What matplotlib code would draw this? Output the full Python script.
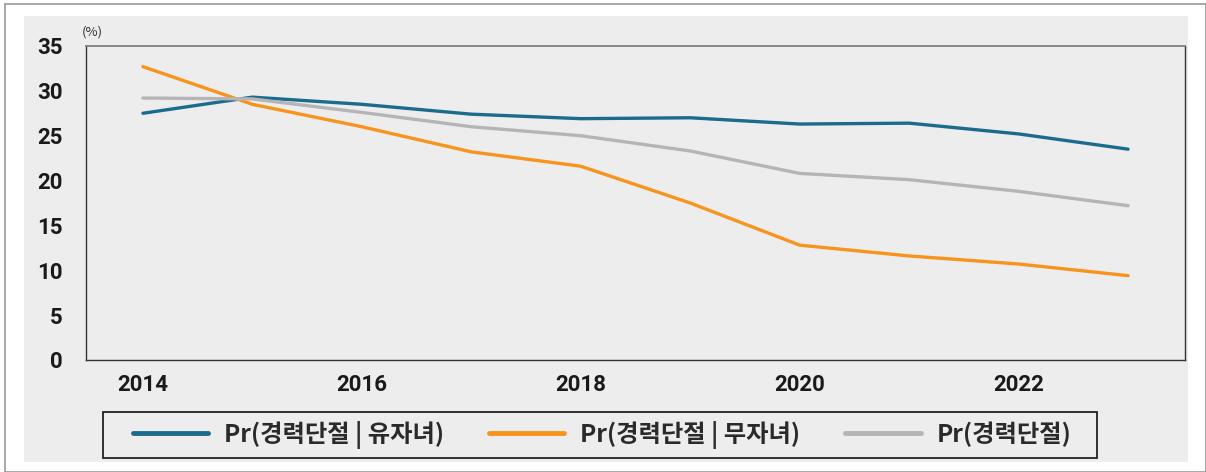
import matplotlib
matplotlib.use("Agg")
import matplotlib.pyplot as plt
from matplotlib.patches import Rectangle

years = [2014, 2015, 2016, 2017, 2018, 2019, 2020, 2021, 2022, 2023]
with_child = [27.5, 29.3, 28.5, 27.4, 26.9, 27.0, 26.3, 26.4, 25.2, 23.5]
no_child = [32.7, 28.5, 26.0, 23.2, 21.6, 17.5, 12.8, 11.6, 10.7, 9.4]
overall = [29.2, 29.1, 27.6, 26.0, 25.0, 23.3, 20.8, 20.1, 18.8, 17.2]
labels = ["Pr(경력단절 | 유자녀)", "Pr(경력단절 | 무자녀)", "Pr(경력단절)"]
colors = ["#1b6c8c", "#f7941d", "#b5b5b7"]
xticks = [2014, 2016, 2018, 2020, 2022]
yticks = [0, 5, 10, 15, 20, 25, 30, 35]

plt.rcParams['font.family'] = ['Noto Sans CJK KR', 'DejaVu Sans']

W, H = 1206, 472
fig = plt.figure(figsize=(W/100, H/100), dpi=100, facecolor="white")

# outer frame and gray panel
fig.patches.append(Rectangle((5/W, 0), (W-5)/W, (H-4)/H, transform=fig.transFigure,
                             facecolor="white", edgecolor="#9a9a9a", lw=1.2, zorder=-20))
fig.patches.append(Rectangle((24/W, (H-462)/H), (1188-24)/W, (462-16)/H, transform=fig.transFigure,
                             facecolor="#ededed", edgecolor="none", zorder=-10))
# legend frame
fig.patches.append(Rectangle((103/W, (H-458)/H), (1097-103)/W, 46/H, transform=fig.transFigure,
                             facecolor="none", edgecolor="#222222", lw=1.3, zorder=7))

ax = fig.add_axes([86/W, (H-360)/H, (1185-86)/W, (360-46)/H])
ax.set_zorder(5)
ax.set_facecolor("#ededed")
for y, lab, c in zip([with_child, no_child, overall], labels, colors):
    ax.plot(years, y, color=c, lw=2.4, label=lab, solid_capstyle="round")

ax.set_xlim(2013.48, 2023.52)
ax.set_ylim(0, 35)
ax.set_xticks(xticks)
ax.set_yticks(yticks)
ax.tick_params(length=0, labelsize=16)
ax.tick_params(axis="x", pad=10)
ax.tick_params(axis="y", pad=17)
for t in ax.get_xticklabels() + ax.get_yticklabels():
    t.set_fontweight("bold")
    t.set_family(["Roboto", "DejaVu Sans"])
    t.set_color("#1a1a1a")
for s in ["left", "right", "bottom"]:
    ax.spines[s].set_color("#333333")
    ax.spines[s].set_linewidth(1.0)
ax.spines["top"].set_color("#777777")
ax.spines["top"].set_linewidth(1.2)

fig.text(82/W, (H-32)/H, "(%)", fontsize=9.5, color="#333333", ha="left", va="center", zorder=6)

fs = 17.5
leg = fig.legend(loc="center", bbox_to_anchor=(602/W, (H-435)/H), ncol=3,
                 frameon=False, handlelength=3.1, columnspacing=1.85,
                 handletextpad=0.65, borderpad=0.2, borderaxespad=0,
                 prop={'weight': 'bold', 'size': fs})
leg.set_zorder(6)
for line in leg.get_lines():
    line.set_linewidth(3.5)
for t in leg.get_texts():
    t.set_color("#2a2a2a")

fig.savefig("out.png", dpi=100, facecolor="white")
